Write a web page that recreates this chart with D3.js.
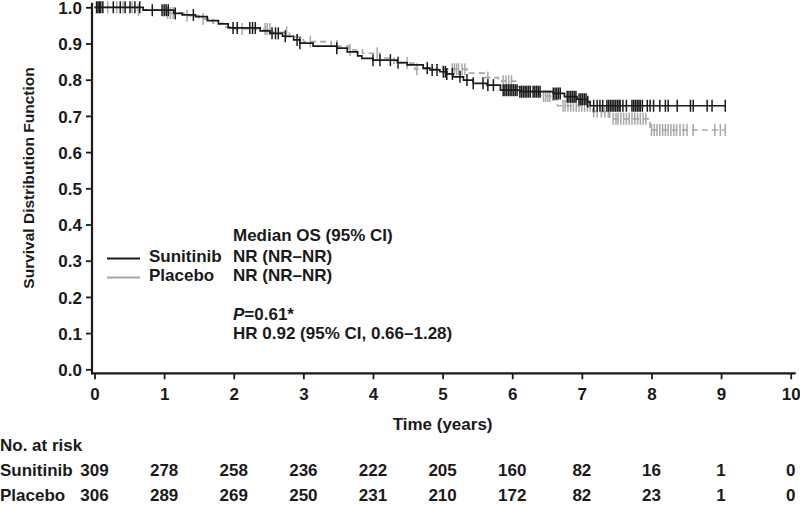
<!DOCTYPE html>
<html><head><meta charset="utf-8">
<script src="https://cdn.jsdelivr.net/npm/d3@7"></script>
<style>
body{margin:0;background:#fff}
svg{display:block}
text{font-family:"Liberation Sans",Arial,Helvetica,sans-serif;font-weight:bold;fill:#1a1a1a}
</style>
</head><body>
<svg id="c" width="800" height="505"></svg>
<script>
// ---- data ----
const xTicks = [0,1,2,3,4,5,6,7,8,9,10];
const yTicks = [0,0.1,0.2,0.3,0.4,0.5,0.6,0.7,0.8,0.9,1.0];
const endTime = 9.06;

const sunTimes = [0,0.70,1.14,1.26,1.45,1.62,1.78,1.92,2.38,2.52,2.70,2.86,2.95,3.14,3.48,3.63,3.78,3.84,4.00,4.35,4.49,4.72,4.82,4.96,5.06,5.15,5.30,5.44,5.64,5.83,6.11,6.59,6.75,6.93,7.08,7.12];
const sunSurv  = [1.0,0.992,0.983,0.979,0.974,0.963,0.954,0.943,0.935,0.928,0.920,0.910,0.901,0.893,0.887,0.877,0.866,0.859,0.854,0.847,0.841,0.832,0.827,0.822,0.816,0.808,0.799,0.790,0.785,0.771,0.767,0.762,0.753,0.746,0.739,0.728];

const plaTimes = [0,0.62,1.05,1.30,1.50,1.70,1.85,2.00,2.55,2.80,3.00,3.40,3.65,3.85,4.10,4.30,4.60,5.35,5.60,5.80,6.05,6.20,6.40,6.55,6.65,7.16,7.40,7.98];
const plaSurv  = [1.0,0.993,0.984,0.977,0.968,0.956,0.946,0.940,0.931,0.918,0.905,0.893,0.882,0.873,0.860,0.846,0.829,0.818,0.806,0.796,0.780,0.768,0.755,0.744,0.728,0.712,0.692,0.661];

const sunCensor = [0.03,0.05,0.07,0.09,0.12,0.27,0.37,0.44,0.51,0.58,0.65,0.83,0.97,1.00,1.03,1.06,1.16,1.42,1.99,2.05,2.23,2.27,2.31,2.55,2.60,2.64,2.74,2.91,2.95,3.48,4.00,4.10,4.25,4.36,4.78,4.85,4.92,5.01,5.04,5.06,5.14,5.25,5.35,5.44,5.58,5.65,5.73,
  5.87,5.895,5.92,5.945,5.97,5.995,6.02,6.045,6.07,
  6.11,6.135,6.16,6.185,6.21,6.235,6.26,
  6.30,6.325,6.35,6.375,6.40,
  6.59,6.615,6.64,6.665,6.69,
  6.79,6.815,6.84,6.865,6.89,6.915,
  6.96,6.985,7.01,7.035,7.06,7.085,
  7.17,7.22,7.26,7.30,7.36,7.385,7.41,7.435,7.46,7.485,7.51,7.535,7.55,7.59,7.64,
  7.72,7.745,7.77,7.795,7.82,7.84,7.87,7.94,7.98,8.03,
  8.12,8.20,8.24,8.37,8.56,8.60,8.80,8.87,9.06];

const plaCensor = [0.19,0.32,0.41,0.54,0.63,1.01,1.05,1.09,1.13,1.33,1.56,2.12,2.45,2.48,2.52,2.76,3.10,3.48,3.67,4.06,4.49,4.63,5.14,5.17,5.20,5.23,5.28,5.32,5.65,5.87,5.91,5.95,5.99,6.45,6.48,6.51,6.54,
  6.73,6.76,6.80,6.84,6.88,6.92,6.96,7.00,7.04,7.08,7.12,
  7.17,7.22,7.28,7.33,7.38,
  7.45,7.49,7.52,7.56,7.60,7.64,7.68,7.72,7.76,7.80,7.84,7.88,7.92,
  8.00,8.04,8.08,8.12,8.16,8.20,8.24,8.28,8.32,8.36,8.41,8.46,8.51,8.60,8.91,8.99,9.06];

const groups = ["Sunitinib","Placebo"];
const sunRisk = [309,278,258,236,222,205,160,82,16,1,0];
const plaRisk = [306,289,269,250,231,210,172,82,23,1,0];
const medianOS = ["NR (NR\u2013NR)","NR (NR\u2013NR)"];

// ---- drawing ----
const svg = d3.select("#c");
const x = d3.scaleLinear().domain([0,10]).range([94.5,790.7]);
const y = d3.scaleLinear().domain([0,1]).range([369.3,7.3]);
const axisY = y(0) + 4;   // x-axis line sits slightly below 0
const axisX = x(0) - 2.5; // y-axis line sits slightly left of 0
const FS = 17;

// axis lines
svg.append("line").attr("x1",axisX).attr("x2",axisX).attr("y1",y(1)-4.5).attr("y2",axisY+1)
  .attr("stroke","#1a1a1a").attr("stroke-width",2.2);
svg.append("line").attr("x1",axisX-1).attr("x2",x(10)+5).attr("y1",axisY).attr("y2",axisY)
  .attr("stroke","#1a1a1a").attr("stroke-width",2.2);

// y axis
const gy = svg.append("g").attr("transform",`translate(${axisX},0)`)
  .call(d3.axisLeft(y).tickValues(yTicks).tickSize(6).tickPadding(4).tickFormat(d3.format(".1f")));
gy.select(".domain").remove();
gy.selectAll(".tick line").attr("stroke","#1a1a1a").attr("stroke-width",1.8);
gy.selectAll(".tick text").attr("font-size",FS).attr("font-family",null).attr("fill","#1a1a1a").attr("dy","0.36em");

// x axis
const gx = svg.append("g").attr("transform",`translate(0,${axisY})`)
  .call(d3.axisBottom(x).tickValues(xTicks).tickSize(6).tickPadding(9).tickFormat(d3.format("d")));
gx.select(".domain").remove();
gx.selectAll(".tick line").attr("stroke","#1a1a1a").attr("stroke-width",1.8);
gx.selectAll(".tick text").attr("font-size",FS).attr("font-family",null).attr("fill","#1a1a1a");

// axis titles
svg.append("text").attr("transform",`translate(34,178) rotate(-90)`).attr("text-anchor","middle")
  .attr("font-size",15.5).text("Survival Distribution Function");
svg.append("text").attr("x",x(5)).attr("y",430).attr("text-anchor","middle")
  .attr("font-size",FS).text("Time (years)");

// survival curves
function stepAt(times, surv, t){
  let s = surv[0];
  for(let i=0;i<times.length;i++){ if(times[i] <= t) s = surv[i]; }
  return s;
}
const line = d3.line().x(d=>x(d[0])).y(d=>y(d[1])).curve(d3.curveStepAfter);
function drawCurve(times, surv, censor, color, dash){
  const pts = times.map((t,i)=>[t,surv[i]]);
  pts.push([endTime, surv[surv.length-1]]);
  svg.append("path").datum(pts).attr("d",line).attr("fill","none")
    .attr("stroke",color).attr("stroke-width",1.7).attr("stroke-dasharray",dash);
  svg.append("g").selectAll("line").data(censor).join("line")
    .attr("x1",d=>x(d)).attr("x2",d=>x(d))
    .attr("y1",d=>y(stepAt(times,surv,d))-6).attr("y2",d=>y(stepAt(times,surv,d))+6)
    .attr("stroke",color).attr("stroke-width",1.5);
}
drawCurve(plaTimes, plaSurv, plaCensor, "#a8a8a8", "6,4");
drawCurve(sunTimes, sunSurv, sunCensor, "#1a1a1a", null);

// legend
const lg = svg.append("g");
lg.append("text").attr("x",233).attr("y",241).attr("font-size",FS).text("Median OS (95% CI)");
const legColors = ["#1a1a1a","#a8a8a8"];
groups.forEach((g,i)=>{
  const by = 262 + i*19;
  lg.append("line").attr("x1",107).attr("x2",140).attr("y1",by-3.5).attr("y2",by-3.5)
    .attr("stroke",legColors[i]).attr("stroke-width",2);
  lg.append("text").attr("x",149).attr("y",by).attr("font-size",FS).text(g);
  lg.append("text").attr("x",233).attr("y",by).attr("font-size",FS).text(medianOS[i]);
});
const pt = lg.append("text").attr("x",233).attr("y",320).attr("font-size",FS);
pt.append("tspan").attr("font-style","italic").text("P");
pt.append("tspan").text("=0.61*");
lg.append("text").attr("x",233).attr("y",339).attr("font-size",FS).text("HR 0.92 (95% CI, 0.66\u20131.28)");

// number at risk
svg.append("text").attr("x",0).attr("y",451).attr("font-size",FS).text("No. at risk");
const riskRows = [sunRisk, plaRisk];
groups.forEach((g,i)=>{
  const by = 476 + i*24.5;
  svg.append("text").attr("x",0).attr("y",by).attr("font-size",FS).text(g);
  svg.append("g").selectAll("text").data(riskRows[i]).join("text")
    .attr("x",(d,j)=>x(xTicks[j])).attr("y",by).attr("text-anchor","middle")
    .attr("font-size",FS).text(d=>d);
});
</script>
</body></html>
